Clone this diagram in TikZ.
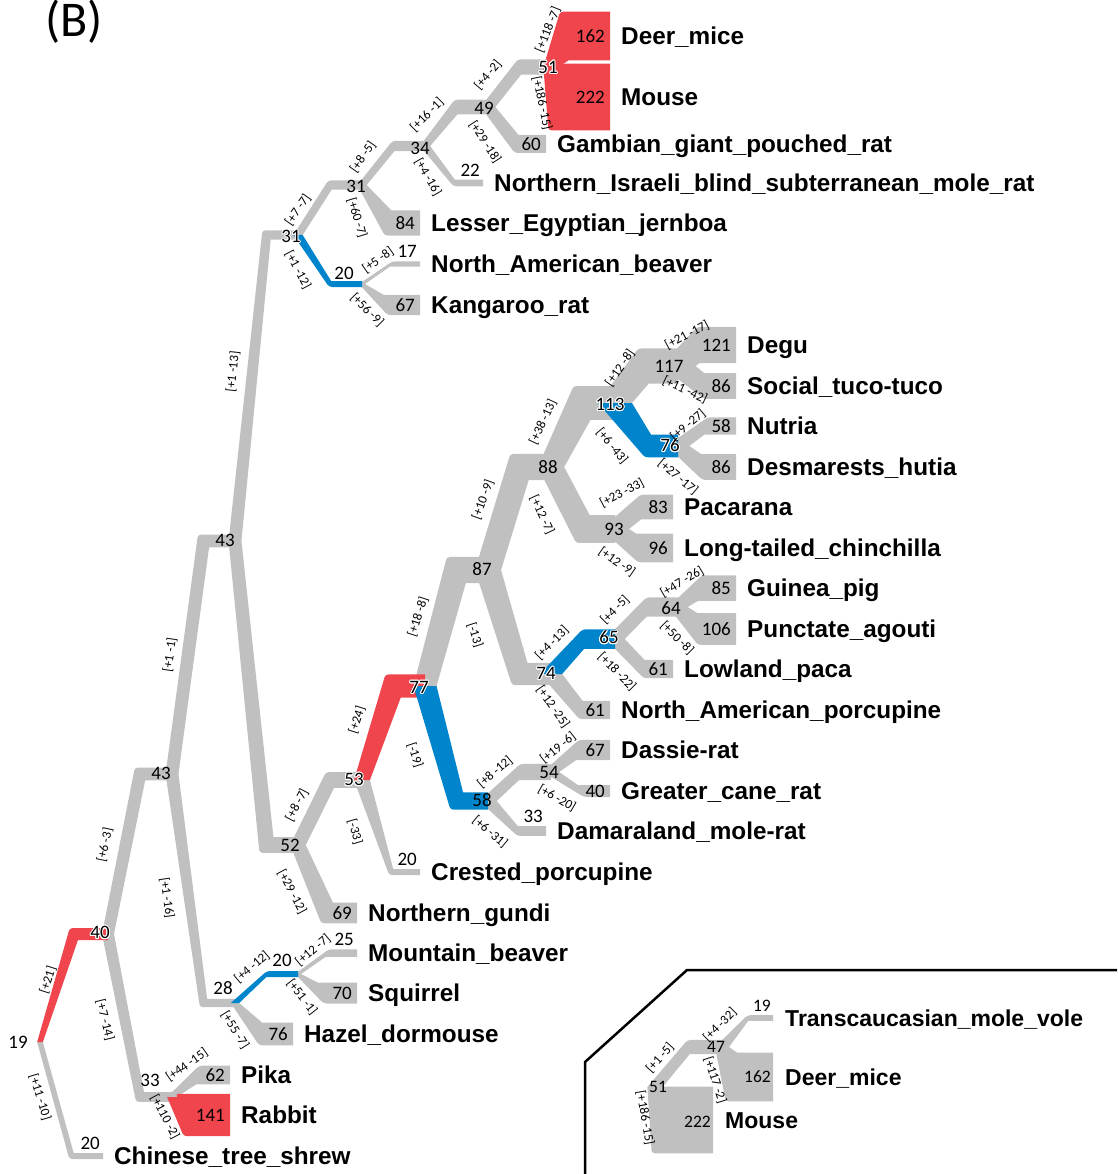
\documentclass[tikz,border=0pt]{standalone}
\usepackage{fontspec}
\usepackage{contour}
\setmainfont{Carlito}
\newfontfamily\taxonfont{Liberation Sans}
\contourlength{0.9pt}

\definecolor{branchgray}{RGB}{192,192,192}
\definecolor{gainred}{RGB}{240,69,76}
\definecolor{lossblue}{RGB}{0,132,204}

% tapered branch: [colour]{parent}{child}{parent size}{child size}
\newcommand{\branch}[5][branchgray]{%
  \path (#2); \pgfgetlastxy{\bXa}{\bYa}%
  \path (#3); \pgfgetlastxy{\bXb}{\bYb}%
  \pgfmathsetmacro\bWa{#4*0.3}%
  \pgfmathsetmacro\bWb{#5*0.3}%
  \pgfmathsetmacro\bSg{(\bYb>\bYa)?1:-1}%
  \pgfmathsetmacro\bH{max(abs(\bYb-\bYa),1)}%
  \pgfmathsetmacro\bXk{(\bXa+\bXb)/2}%
  \pgfmathsetmacro\bTo{min(1+\bWb/(2*\bH),1.3)}%
  \pgfmathsetmacro\bTi{max(1-\bWb/(2*\bH),0)}%
  \pgfmathsetmacro\bXl{\bXa-\bWa/2}%
  \pgfmathsetmacro\bXr{\bXa+\bWa/2}%
  \pgfmathsetmacro\bXo{\bXl+((\bXk-\bWb/2)-\bXl)*\bTo}%
  \pgfmathsetmacro\bXin{min(\bXr+((\bXk+\bWb/2)-\bXr)*\bTi,\bXb)}%
  \pgfmathsetmacro\bYo{\bYb+\bSg*\bWb/2}%
  \pgfmathsetmacro\bYin{\bYb-\bSg*\bWb/2}%
  \fill[#1] (\bXl pt,\bYa) [rounded corners=3pt] -- (\bXo pt,\bYo pt) [sharp corners]
    -- (\bXb,\bYo pt) -- (\bXb,\bYin pt) -- (\bXin pt,\bYin pt) -- (\bXr pt,\bYa) -- cycle;
}

\begin{document}
\begin{tikzpicture}[
    x=1pt,
    y=-1pt,
    num/.style={font=\fontsize{19}{20}\selectfont, inner sep=0pt},
    leafnum/.style={num, anchor=east},
    topnum/.style={num, anchor=south east},
    smallnum/.style={font=\fontsize{17.5}{18}\selectfont, inner sep=0pt},
    elab/.style={font=\fontsize{13}{14}\selectfont, inner sep=0pt},
    taxon/.style={font=\taxonfont\bfseries\fontsize{24.3}{26}\selectfont, anchor=base west, inner sep=0pt},
    smalltaxon/.style={taxon, font=\taxonfont\bfseries\fontsize{23}{25}\selectfont}
  ]
  \useasboundingbox (0,0) rectangle (1117,1174);

  % inner points of the tree
  \coordinate (n19) at (40,1042);
  \coordinate (n40) at (108,934);
  \coordinate (n43a) at (172,774);
  \coordinate (n43b) at (235,541);
  \coordinate (n31a) at (298,235);
  \coordinate (n31b) at (362,185);
  \coordinate (n34) at (425,146);
  \coordinate (n49) at (488,107);
  \coordinate (n51) at (551,67);
  \coordinate (n20a) at (362,284);
  \coordinate (n52) at (298,845);
  \coordinate (n53) at (362,780);
  \coordinate (n77) at (425,686);
  \coordinate (n87) at (488,570);
  \coordinate (n88) at (551,467);
  \coordinate (n113) at (615,403);
  \coordinate (n117) at (678,366);
  \coordinate (n76) at (678,446);
  \coordinate (n93) at (615,529);
  \coordinate (n74) at (551,674);
  \coordinate (n65) at (615,639);
  \coordinate (n64) at (678,607);
  \coordinate (n58) at (488,801);
  \coordinate (n54) at (551,772);
  \coordinate (n28) at (235,1003);
  \coordinate (n20b) at (298,974);
  \coordinate (n33) at (172,1097);

  % leaves
  \coordinate (deermice) at (610,36);
  \coordinate (mouse) at (610,97);
  \coordinate (gambian) at (546,144);
  \coordinate (israeli) at (483,183);
  \coordinate (jerboa) at (420,223);
  \coordinate (beaver) at (420,264);
  \coordinate (kangaroo) at (420,305);
  \coordinate (degu) at (736,345);
  \coordinate (tucotuco) at (736,386);
  \coordinate (nutria) at (736,426);
  \coordinate (hutia) at (736,467);
  \coordinate (pacarana) at (673,507);
  \coordinate (chinchilla) at (673,548);
  \coordinate (guineapig) at (736,588);
  \coordinate (agouti) at (736,629);
  \coordinate (paca) at (673,669);
  \coordinate (porcupine) at (610,710);
  \coordinate (dassie) at (610,750);
  \coordinate (canerat) at (610,791);
  \coordinate (molerat) at (546,831);
  \coordinate (crested) at (420,872);
  \coordinate (gundi) at (357,913);
  \coordinate (mtbeaver) at (357,953);
  \coordinate (squirrel) at (357,993);
  \coordinate (dormouse) at (293,1034);
  \coordinate (pika) at (230,1075);
  \coordinate (rabbit) at (230,1115);
  \coordinate (shrew) at (103,1156);

  % inset
  \coordinate (i51) at (655,1087);
  \coordinate (i47) at (722,1047);
  \coordinate (ivole) at (773,1018);
  \coordinate (ideer) at (773,1077);
  \coordinate (imouse) at (713,1120);

  % grey branches
  \branch{n19}{shrew}{19}{20}
  \branch{n40}{n43a}{40}{43}
  \branch{n40}{n33}{40}{33}
  \branch{n43a}{n43b}{43}{43}
  \branch{n43a}{n28}{43}{28}
  \branch{n43b}{n31a}{43}{31}
  \branch{n43b}{n52}{43}{52}
  \branch{n31a}{n31b}{31}{31}
  \branch{n31b}{n34}{31}{34}
  \branch{n31b}{jerboa}{31}{84}
  \branch{n34}{n49}{34}{49}
  \branch{n34}{israeli}{34}{22}
  \branch{n49}{n51}{49}{51}
  \branch{n49}{gambian}{49}{60}
  \branch{n20a}{beaver}{20}{17}
  \branch{n20a}{kangaroo}{20}{67}
  \branch{n52}{n53}{52}{53}
  \branch{n52}{gundi}{52}{69}
  \branch{n53}{crested}{53}{20}
  \branch{n77}{n87}{77}{87}
  \branch{n87}{n88}{87}{88}
  \branch{n87}{n74}{87}{74}
  \branch{n88}{n113}{88}{113}
  \branch{n88}{n93}{88}{93}
  \branch{n113}{n117}{113}{117}
  \branch{n117}{degu}{117}{121}
  \branch{n117}{tucotuco}{117}{86}
  \branch{n76}{nutria}{76}{58}
  \branch{n76}{hutia}{76}{86}
  \branch{n93}{pacarana}{93}{83}
  \branch{n93}{chinchilla}{93}{96}
  \branch{n74}{porcupine}{74}{61}
  \branch{n65}{n64}{65}{64}
  \branch{n65}{paca}{65}{61}
  \branch{n64}{guineapig}{64}{85}
  \branch{n64}{agouti}{64}{106}
  \branch{n58}{n54}{58}{54}
  \branch{n58}{molerat}{58}{33}
  \branch{n54}{dassie}{54}{67}
  \branch{n54}{canerat}{54}{40}
  \branch{n28}{dormouse}{28}{76}
  \branch{n20b}{mtbeaver}{20}{25}
  \branch{n20b}{squirrel}{20}{70}
  \branch{n33}{pika}{33}{62}

  % gains and losses
  \branch[gainred]{n19}{n40}{19}{40}
  \branch[gainred]{n51}{deermice}{51}{162}
  \branch[gainred]{n51}{mouse}{51}{222}
  \branch[gainred]{n53}{n77}{53}{77}
  \branch[gainred]{n33}{rabbit}{33}{141}
  \branch[lossblue]{n31a}{n20a}{31}{20}
  \branch[lossblue]{n77}{n58}{77}{58}
  \branch[lossblue]{n113}{n76}{113}{76}
  \branch[lossblue]{n74}{n65}{74}{65}
  \branch[lossblue]{n28}{n20b}{28}{20}

  % inset tree
  \branch{i51}{i47}{51}{47}
  \branch{i51}{imouse}{51}{222}
  \branch{i47}{ivole}{47}{19}
  \branch{i47}{ideer}{47}{162}

  \draw[line width=2.5pt] (585,1174) -- (585,1062) -- (687,970) -- (1117,970);

  \node[font=\fontsize{50}{52}\selectfont, inner sep=0pt] (panel) at (74,22) {(B)};

  % inner node sizes
  \node[num] (l19) at (18,1042) {19};
  \node[num] (l40) at (100,933) {\contour{white}{40}};
  \node[num] (l43a) at (161,773) {43};
  \node[num] (l43b) at (225,540) {43};
  \node[num] (l31a) at (291,237) {\contour{white}{31}};
  \node[num] (l31b) at (356,186) {31};
  \node[num] (l34) at (420,148) {34};
  \node[num] (l49) at (484,108) {49};
  \node[num] (l51) at (548,68) {\contour{white}{51}};
  \node[num] (l20a) at (344,273) {20};
  \node[num] (l52) at (290,845) {52};
  \node[num] (l53) at (354,780) {\contour{white}{53}};
  \node[num] (l77) at (419,688) {\contour{white}{77}};
  \node[num] (l87) at (482,569) {87};
  \node[num] (l88) at (548,467) {88};
  \node[num] (l113) at (610,405) {\contour{white}{113}};
  \node[num] (l117) at (669,366) {117};
  \node[num] (l76) at (670,446) {\contour{white}{76}};
  \node[num] (l93) at (614,529) {93};
  \node[num] (l74) at (546,674) {\contour{white}{74}};
  \node[num] (l65) at (609,638) {\contour{white}{65}};
  \node[num] (l64) at (671,608) {64};
  \node[num] (l58) at (482,800) {58};
  \node[num] (l54) at (549,772) {54};
  \node[num] (l28) at (223,988) {28};
  \node[num] (l20b) at (282,960) {20};
  \node[num] (l33) at (150,1080) {33};
  \node[smallnum] (li51) at (658,1087) {51};
  \node[smallnum] (li47) at (716,1047) {47};

  % leaf sizes
  \node[leafnum] (v162) at (605,36) {162};
  \node[leafnum] (v222) at (605,97) {222};
  \node[leafnum] (v60) at (541,144) {60};
  \node[topnum] (v22) at (480,177) {22};
  \node[leafnum] (v84) at (415,223) {84};
  \node[topnum] (v17) at (417,258) {17};
  \node[leafnum] (v67k) at (415,305) {67};
  \node[leafnum] (v121) at (731,345) {121};
  \node[leafnum] (v86s) at (731,386) {86};
  \node[leafnum] (v58n) at (731,426) {58};
  \node[leafnum] (v86h) at (731,467) {86};
  \node[leafnum] (v83) at (668,507) {83};
  \node[leafnum] (v96) at (668,548) {96};
  \node[leafnum] (v85) at (731,588) {85};
  \node[leafnum] (v106) at (731,629) {106};
  \node[leafnum] (v61l) at (668,669) {61};
  \node[leafnum] (v61p) at (605,710) {61};
  \node[leafnum] (v67d) at (605,750) {67};
  \node[leafnum] (v40) at (605,791) {40};
  \node[topnum] (v33) at (543,823) {33};
  \node[topnum] (v20c) at (417,866) {20};
  \node[leafnum] (v69) at (352,913) {69};
  \node[topnum] (v25) at (354,946) {25};
  \node[leafnum] (v70) at (352,993) {70};
  \node[leafnum] (v76) at (288,1034) {76};
  \node[leafnum] (v62) at (225,1075) {62};
  \node[leafnum] (v141) at (225,1115) {141};
  \node[topnum] (v20s) at (100,1150) {20};
  \node[smallnum, anchor=south east] (vi19) at (771,1012) {19};
  \node[smallnum, anchor=east] (vi162) at (771,1077) {162};
  \node[smallnum, anchor=east] (vi222) at (711,1122) {222};

  % species
  \node[taxon] (deermice-n) at (621,44.7) {Deer\_mice};
  \node[taxon] (mouse-n) at (621,105.7) {Mouse};
  \node[taxon] (gambian-n) at (557,152.7) {Gambian\_giant\_pouched\_rat};
  \node[taxon] (israeli-n) at (494,191.7) {Northern\_Israeli\_blind\_subterranean\_mole\_rat};
  \node[taxon] (jerboa-n) at (431,231.7) {Lesser\_Egyptian\_jernboa};
  \node[taxon] (beaver-n) at (431,272.7) {North\_American\_beaver};
  \node[taxon] (kangaroo-n) at (431,313.7) {Kangaroo\_rat};
  \node[taxon] (degu-n) at (747,353.7) {Degu};
  \node[taxon] (tucotuco-n) at (747,394.7) {Social\_tuco-tuco};
  \node[taxon] (nutria-n) at (747,434.7) {Nutria};
  \node[taxon] (hutia-n) at (747,475.7) {Desmarests\_hutia};
  \node[taxon] (pacarana-n) at (684,515.7) {Pacarana};
  \node[taxon] (chinchilla-n) at (684,556.7) {Long-tailed\_chinchilla};
  \node[taxon] (guineapig-n) at (747,596.7) {Guinea\_pig};
  \node[taxon] (agouti-n) at (747,637.7) {Punctate\_agouti};
  \node[taxon] (paca-n) at (684,677.7) {Lowland\_paca};
  \node[taxon] (porcupine-n) at (621,718.7) {North\_American\_porcupine};
  \node[taxon] (dassie-n) at (621,758.7) {Dassie-rat};
  \node[taxon] (canerat-n) at (621,799.7) {Greater\_cane\_rat};
  \node[taxon] (molerat-n) at (557,839.7) {Damaraland\_mole-rat};
  \node[taxon] (crested-n) at (431,880.7) {Crested\_porcupine};
  \node[taxon] (gundi-n) at (368,921.7) {Northern\_gundi};
  \node[taxon] (mtbeaver-n) at (368,961.7) {Mountain\_beaver};
  \node[taxon] (squirrel-n) at (368,1001.7) {Squirrel};
  \node[taxon] (dormouse-n) at (304,1042.7) {Hazel\_dormouse};
  \node[taxon] (pika-n) at (241,1083.7) {Pika};
  \node[taxon] (rabbit-n) at (241,1123.7) {Rabbit};
  \node[taxon] (shrew-n) at (114,1164.7) {Chinese\_tree\_shrew};
  \node[smalltaxon] (ivole-n) at (785,1026) {Transcaucasian\_mole\_vole};
  \node[smalltaxon] (ideer-n) at (785,1085) {Deer\_mice};
  \node[smalltaxon] (imouse-n) at (725,1128) {Mouse};

  % gain/loss labels along the branches
  \node[elab, rotate=72] (t40) at (48,980) {[+21]};
  \node[elab, rotate=-73] (tshrew) at (40,1097) {[+11 -10]};
  \node[elab, rotate=78] (t43a) at (105,845) {[+6 -3]};
  \node[elab, rotate=-76] (t33) at (105,1020) {[+7 -14]};
  \node[elab, rotate=82] (t43b) at (170,655) {[+1 -1]};
  \node[elab, rotate=-82] (t28) at (167,898) {[+1 -16]};
  \node[elab, rotate=84] (t31a) at (233,372) {[+1 -13]};
  \node[elab, rotate=55] (t31b) at (298,210) {[+7 -7]};
  \node[elab, rotate=-62] (t20a) at (298,270) {[+1 -12]};
  \node[elab, rotate=55] (t34) at (363,157) {[+8 -5]};
  \node[elab, rotate=-73] (tjerboa) at (357,218) {[+60 -7]};
  \node[elab, rotate=45] (t49) at (427,115) {[+16 -1]};
  \node[elab, rotate=-60] (tisraeli) at (428,177) {[+4 -16]};
  \node[elab, rotate=50] (t51) at (488,75) {[+4 -2]};
  \node[elab, rotate=-57] (tgambian) at (485,142) {[+29 -18]};
  \node[elab, rotate=68] (tdeermice) at (548,30) {[+118 -7]};
  \node[elab, rotate=-78] (tmouse) at (542,103) {[+186 -15]};
  \node[elab, rotate=35] (tbeaver) at (378,260) {[+5 -8]};
  \node[elab, rotate=-45] (tkangaroo) at (367,310) {[+56 -9]};
  \node[elab, rotate=62] (t53) at (297,805) {[+8 -7]};
  \node[elab, rotate=-62] (tgundi) at (292,892) {[+29 -12]};
  \node[elab, rotate=72] (t77) at (357,720) {[+24]};
  \node[elab, rotate=-74] (tcrested) at (355,832) {[-33]};
  \node[elab, rotate=72] (t87) at (418,617) {[+18 -8]};
  \node[elab, rotate=-72] (t58) at (415,755) {[-19]};
  \node[elab, rotate=70] (t88) at (483,500) {[+10 -9]};
  \node[elab, rotate=-72] (t74) at (475,635) {[-13]};
  \node[elab, rotate=65] (t113) at (543,422) {[+38 -13]};
  \node[elab, rotate=-65] (t93) at (542,515) {[+12 -7]};
  \node[elab, rotate=55] (t117) at (620,368) {[+12 -8]};
  \node[elab, rotate=-50] (t76) at (612,446) {[+6 -43]};
  \node[elab, rotate=28] (tdegu) at (687,335) {[+21 -17]};
  \node[elab, rotate=-25] (ttucotuco) at (685,390) {[+11 -42]};
  \node[elab, rotate=40] (tnutria) at (688,425) {[+9 -27]};
  \node[elab, rotate=-40] (thutia) at (678,477) {[+27 -17]};
  \node[elab, rotate=28] (tpacarana) at (622,493) {[+23 -33]};
  \node[elab, rotate=-35] (tchinchilla) at (617,562) {[+12 -9]};
  \node[elab, rotate=30] (tguineapig) at (682,582) {[+47 -26]};
  \node[elab, rotate=-45] (tagouti) at (677,638) {[+50 -8]};
  \node[elab, rotate=45] (t64) at (615,610) {[+4 -5]};
  \node[elab, rotate=-45] (tpaca) at (617,672) {[+18 -22]};
  \node[elab, rotate=45] (t65) at (552,643) {[+4 -13]};
  \node[elab, rotate=-55] (tporcupine) at (553,707) {[+12 -25]};
  \node[elab, rotate=38] (tdassie) at (558,748) {[+19 -6]};
  \node[elab, rotate=-30] (tcanerat) at (557,798) {[+6 -20]};
  \node[elab, rotate=40] (t54) at (495,772) {[+8 -12]};
  \node[elab, rotate=-40] (tmolerat) at (490,832) {[+6 -31]};
  \node[elab, rotate=40] (t20b) at (252,967) {[+4 -12]};
  \node[elab, rotate=-58] (tdormouse) at (235,1030) {[+55 -7]};
  \node[elab, rotate=40] (tmtbeaver) at (313,950) {[+12 -7]};
  \node[elab, rotate=-52] (tsquirrel) at (302,997) {[+51 -1]};
  \node[elab, rotate=35] (tpika) at (187,1065) {[+44 -15]};
  \node[elab, rotate=-62] (trabbit) at (165,1117) {[+110 -2]};
  \node[elab, rotate=48] (ti47) at (660,1058) {[+1 -5]};
  \node[elab, rotate=45] (tivole) at (720,1025) {[+4 -32]};
  \node[elab, rotate=-72] (tideer) at (715,1080) {[+117 -2]};
  \node[elab, rotate=-80] (timouse) at (645,1118) {[+186 -15]};
\end{tikzpicture}
\end{document}
